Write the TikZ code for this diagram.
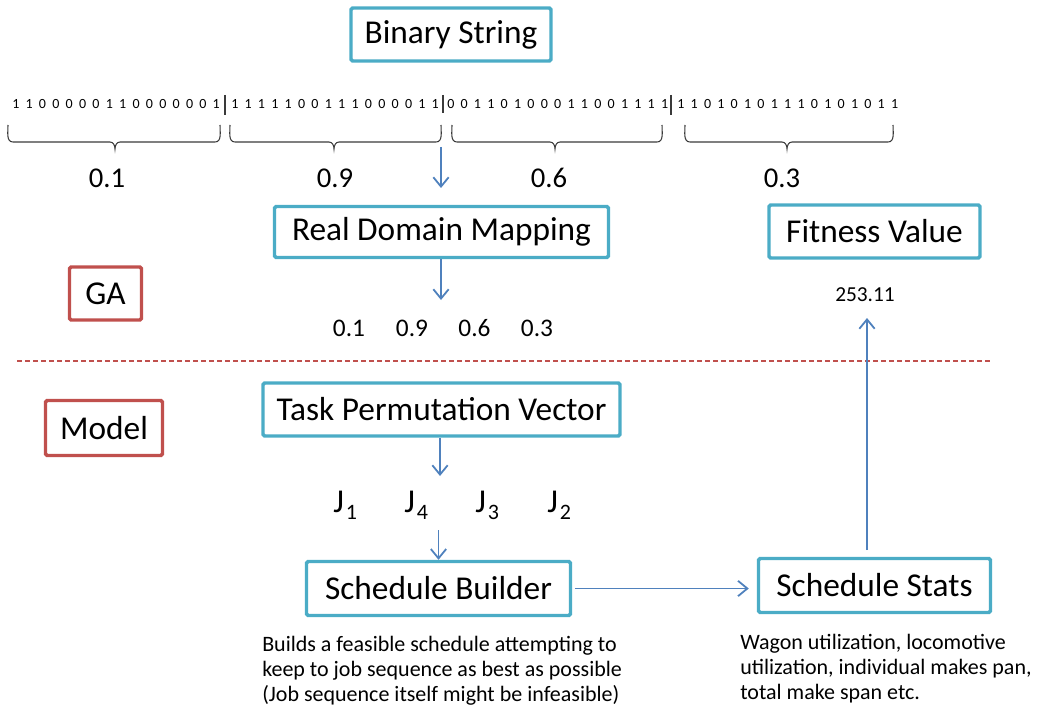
\documentclass[tikz,border=0pt]{standalone}
\usepackage{fontspec}
\setmainfont{Carlito}
\usetikzlibrary{arrows.meta}
\definecolor{boxteal}{HTML}{4BACC6}
\definecolor{boxred}{HTML}{C0504D}
\definecolor{arrblue}{HTML}{4F81BD}
\definecolor{bracegray}{HTML}{3A3A3A}
\newcommand\bitfont{\fontsize{10.5}{12}\selectfont\spaceskip 4.7pt plus 0pt minus 0pt\relax}
\tikzset{
  bbox/.style={draw=boxteal, line width=2.6pt, rounded corners=1.2pt, inner sep=0pt, fill=white, font=\fontsize{25}{30}\selectfont},
  rbox/.style={draw=boxred, line width=2.6pt, rounded corners=1.2pt, inner sep=0pt, fill=white, font=\fontsize{25}{30}\selectfont},
  arr/.style={draw=arrblue, line width=1.35pt, -{Straight Barb[length=7pt,width=11.5pt,line width=1.35pt]}},
  bits/.style={anchor=west, inner sep=0pt, font=\bitfont},
  divider/.style={draw=bracegray, line width=0.8pt},
  bracepath/.style={draw=bracegray, line width=0.8pt},
  toplabel/.style={inner sep=0pt, font=\fontsize{21.5}{25}\selectfont},
  numlabel/.style={inner sep=0pt, font=\fontsize{19}{23}\selectfont},
  jlabel/.style={anchor=base west, inner sep=0pt, font=\fontsize{25}{30}\selectfont},
  note/.style={anchor=north west, inner sep=0pt, align=left, font=\fontsize{16.5}{18.9}\selectfont},
  sep/.style={draw=boxred, line width=0.8pt, dash pattern=on 3.5pt off 2.5pt}
}
\newcommand\gabrace[3]{%
  \draw[bracepath] (#1,125) to[out=-90,in=180] (#1+5,142) -- (#2-5,142)
     to[out=0,in=90] (#2,149) to[out=90,in=180] (#2+5,142) -- (#3-5,142)
     to[out=0,in=-90] (#3,125);}
\newcommand\jsub[1]{J\kern1.5pt\raisebox{-5.5pt}{\fontsize{16.5}{18}\selectfont #1}}
\begin{document}
\begin{tikzpicture}[x=0.75pt,y=-0.75pt]
\useasboundingbox (0,0) rectangle (1042,713);

% boxes
\node[bbox, minimum width=150pt, minimum height=39.75pt] (bin) at (451,34.5) {Binary String};
\node[bbox, minimum width=250.5pt, minimum height=38.25pt] (rdm) at (441.5,232) {Real Domain Mapping};
\node[bbox, minimum width=158.25pt, minimum height=39.75pt] (fit) at (874.5,231.5) {Fitness Value};
\node[rbox, minimum width=54pt, minimum height=39.75pt] (ga) at (105.5,293.5) {GA};
\node[rbox, minimum width=87.75pt, minimum height=41.25pt] (model) at (104,428) {Model};
\node[bbox, minimum width=267.75pt, minimum height=39.75pt] (tpv) at (441.5,409.5) {Task Permutation Vector};
\node[bbox, minimum width=198pt, minimum height=40.5pt] (sb) at (438.5,588.5) {Schedule Builder};
\node[bbox, minimum width=174pt, minimum height=40.5pt] (ss) at (874.5,585.5) {Schedule Stats};

% binary strings
\node[bits] (s1) at (12,104.5) {1 1 0 0 0 0 0 1 1 0 0 0 0 0 0 1};
\node[bits] (s2) at (231,104.5) {1 1 1 1 1 0 0 1 1 1 0 0 0 0 1 1};
\node[bits] (s3) at (447,104.5) {0 0 1 1 0 1 0 0 0 1 1 0 0 1 1 1 1};
\node[bits] (s4) at (677,104.5) {1 1 0 1 0 1 0 1 1 1 0 1 0 1 0 1 1};
\draw[divider] (225,95) -- (225,115);
\draw[divider] (443,95) -- (443,113);
\draw[divider] (671,95) -- (671,115);

% braces
\gabrace{8}{115}{220}
\gabrace{230}{334}{441}
\gabrace{452}{555}{662}
\gabrace{685}{787}{893}

\node[toplabel] (v1) at (107,178) {0.1};
\node[toplabel] (v2) at (335,178) {0.9};
\node[toplabel] (v3) at (549,178) {0.6};
\node[toplabel] (v4) at (782,178) {0.3};

% real values
\node[numlabel] (r1) at (349,328) {0.1};
\node[numlabel] (r2) at (412,328) {0.9};
\node[numlabel] (r3) at (474.5,328) {0.6};
\node[numlabel] (r4) at (537,328) {0.3};

\node[inner sep=0pt, font=\fontsize{16}{19}\selectfont] (val) at (865,295) {253.11};

% separator
\coordinate (dl) at (17,361);
\coordinate (dr) at (990,361);
\draw[sep] (dl) -- (dr);

% jobs
\node[jlabel] (j1) at (333,512) {\jsub{1}};
\node[jlabel] (j4) at (404,512) {\jsub{4}};
\node[jlabel] (j3) at (475,512) {\jsub{3}};
\node[jlabel] (j2) at (547,512) {\jsub{2}};

% notes
\node[note] (n1) at (262,636) {Builds a feasible schedule attempting to\\keep to job sequence as best as possible\\(Job sequence itself might be infeasible)};
\node[note] (n2) at (740,634) {Wagon utilization, locomotive\\utilization, individual makes pan,\\total make span etc.};

% connectors
\coordinate (a1s) at (441,147);
\coordinate (a1e) at (441,188);
\draw[arr] (a1s) -- (a1e);
\coordinate (a2e) at (441,300);
\draw[arr] (rdm.south -| a2e) -- (a2e);
\coordinate (a3e) at (440,476);
\draw[arr] (tpv.south -| a3e) -- (a3e);
\coordinate (a4s) at (438.5,530);
\draw[arr] (a4s) -- (sb.north);
\draw[arr, shorten <=2pt, shorten >=6pt] (sb.east) -- (ss.west |- sb.east);
\coordinate (a6e) at (867,318);
\draw[arr, shorten <=5pt] (ss.north -| a6e) -- (a6e);
\end{tikzpicture}
\end{document}
